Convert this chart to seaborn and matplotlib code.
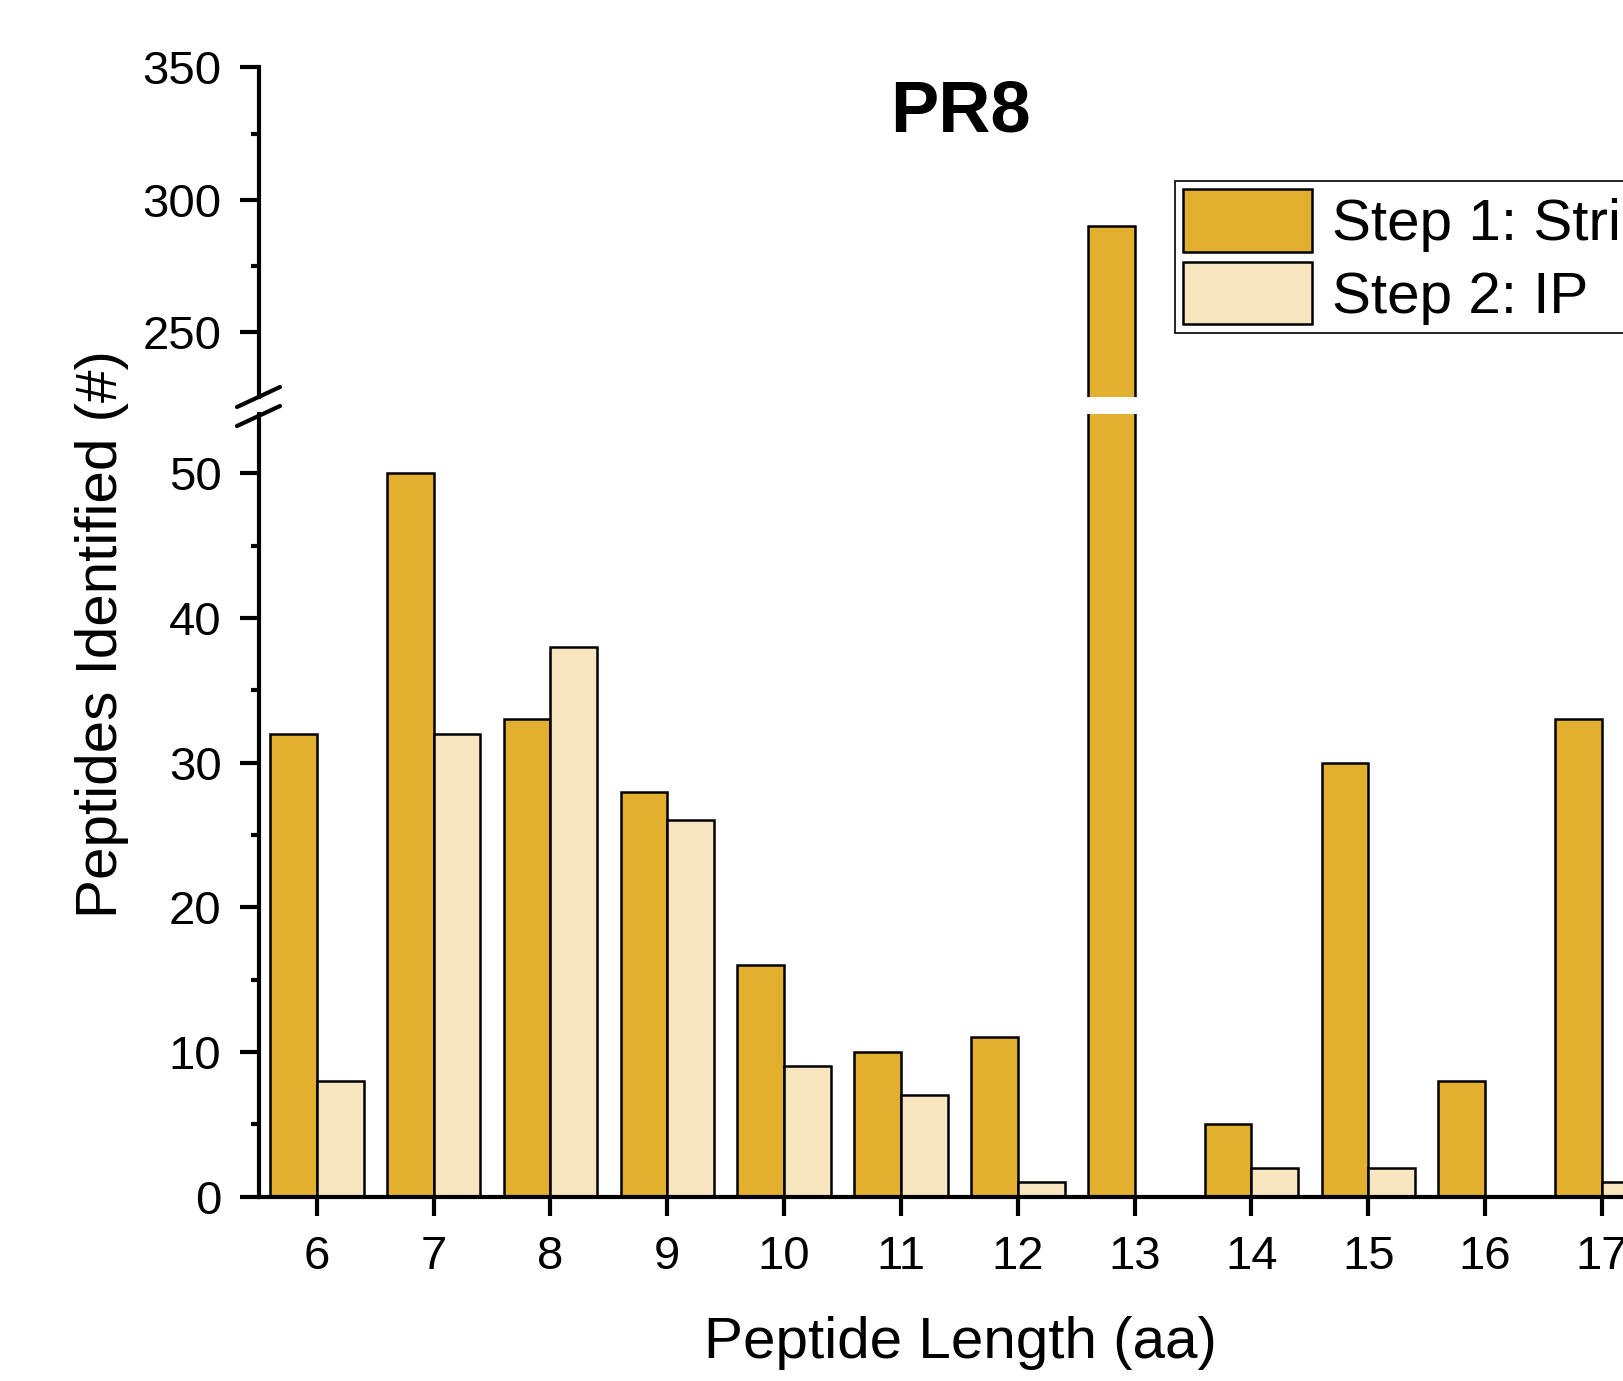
import matplotlib
matplotlib.use("Agg")
import matplotlib.pyplot as plt
from matplotlib.ticker import MultipleLocator
from matplotlib.lines import Line2D
import seaborn as sns
import pandas as pd

lengths = ["6", "7", "8", "9", "10", "11", "12", "13", "14", "15", "16", "17"]
step1 = [32, 50, 33, 28, 16, 10, 11, 290, 5, 30, 8, 33]
step2 = [8, 32, 38, 26, 9, 7, 1, 0, 2, 2, 0, 1]
series_names = ["Step 1: Strip", "Step 2: IP"]
colors = ["#E3AF2F", "#F8E6C1"]

df = pd.DataFrame({
    "Length": lengths * 2,
    "Count": step1 + step2,
    "Step": [series_names[0]] * len(lengths) + [series_names[1]] * len(lengths),
})

sns.set_style("ticks")
plt.rcParams["font.family"] = ["Liberation Sans", "DejaVu Sans"]
plt.rcParams.update({
    "text.color": "black", "axes.labelcolor": "black", "axes.edgecolor": "black",
    "xtick.color": "black", "ytick.color": "black",
})

W, H = 1623, 1381
fig = plt.figure(figsize=(W / 100, H / 100), dpi=100)

def fx(px):
    return px / W

def fy(py):
    return 1 - py / H

left = fx(259)
ax_top = fig.add_axes([left, fy(397), 1.0 - left, fy(67.3) - fy(397)])
ax_bot = fig.add_axes([left, fy(1196.5), 1.0 - left, fy(414) - fy(1196.5)])

for ax, show_leg in ((ax_bot, False), (ax_top, True)):
    sns.barplot(data=df, x="Length", y="Count", hue="Step", order=lengths,
                hue_order=series_names, palette=colors, edgecolor="black",
                linewidth=1.8, saturation=1, width=0.8, legend=show_leg, ax=ax)
    ax.set_xlim(-0.495, 11.18)
    ax.set_xlabel("")
    ax.set_ylabel("")
    ax.spines["right"].set_visible(False)
    ax.spines["top"].set_visible(False)
    ax.spines["left"].set_linewidth(3)
    ax.spines["bottom"].set_linewidth(3)
    ax.tick_params(axis="both", which="major", length=14, width=3, labelsize=34, pad=13,
                   direction="out", colors="black")
    ax.tick_params(axis="y", which="minor", length=6, width=3, direction="out", colors="black")

ax_bot.set_ylim(0, 54.1)
ax_bot.yaxis.set_major_locator(MultipleLocator(10))
ax_bot.yaxis.set_minor_locator(MultipleLocator(5))
ax_bot.tick_params(axis="x", pad=14)

ax_top.set_ylim(225.5, 350)
ax_top.yaxis.set_major_locator(MultipleLocator(50))
ax_top.yaxis.set_minor_locator(MultipleLocator(25))
ax_top.spines["bottom"].set_visible(False)
ax_top.tick_params(axis="x", which="both", bottom=False, labelbottom=False)

# legend
handles, labels = ax_top.get_legend_handles_labels()
if ax_top.get_legend() is not None:
    ax_top.get_legend().remove()
leg = ax_top.legend(handles, labels, loc="upper left",
                    bbox_to_anchor=(fx(1175), fy(181)), bbox_transform=fig.transFigure,
                    fontsize=42, frameon=True, fancybox=False, framealpha=1,
                    edgecolor="black", borderpad=0.14, handlelength=2.2,
                    handleheight=1.27, handletextpad=0.35, labelspacing=0.17,
                    borderaxespad=0)
leg.get_frame().set_linewidth(1.2)

# break marks
for (x0, y0, x1, y1) in [(237, 407, 280, 387), (237, 426, 280, 406)]:
    fig.add_artist(Line2D([fx(x0), fx(x1)], [fy(y0), fy(y1)], color="black", lw=3))

# texts
fig.text(fx(960), fy(131.7), "PR8", fontsize=52, fontweight="bold", ha="center", va="baseline")
fig.text(fx(960), fy(1358), "Peptide Length (aa)", fontsize=42, ha="center", va="baseline")
fig.text(fx(117), fy(634), "Peptides Identified (#)", fontsize=42, rotation=90,
         rotation_mode="anchor", ha="center", va="baseline")

fig.savefig("out.png", dpi=100)
